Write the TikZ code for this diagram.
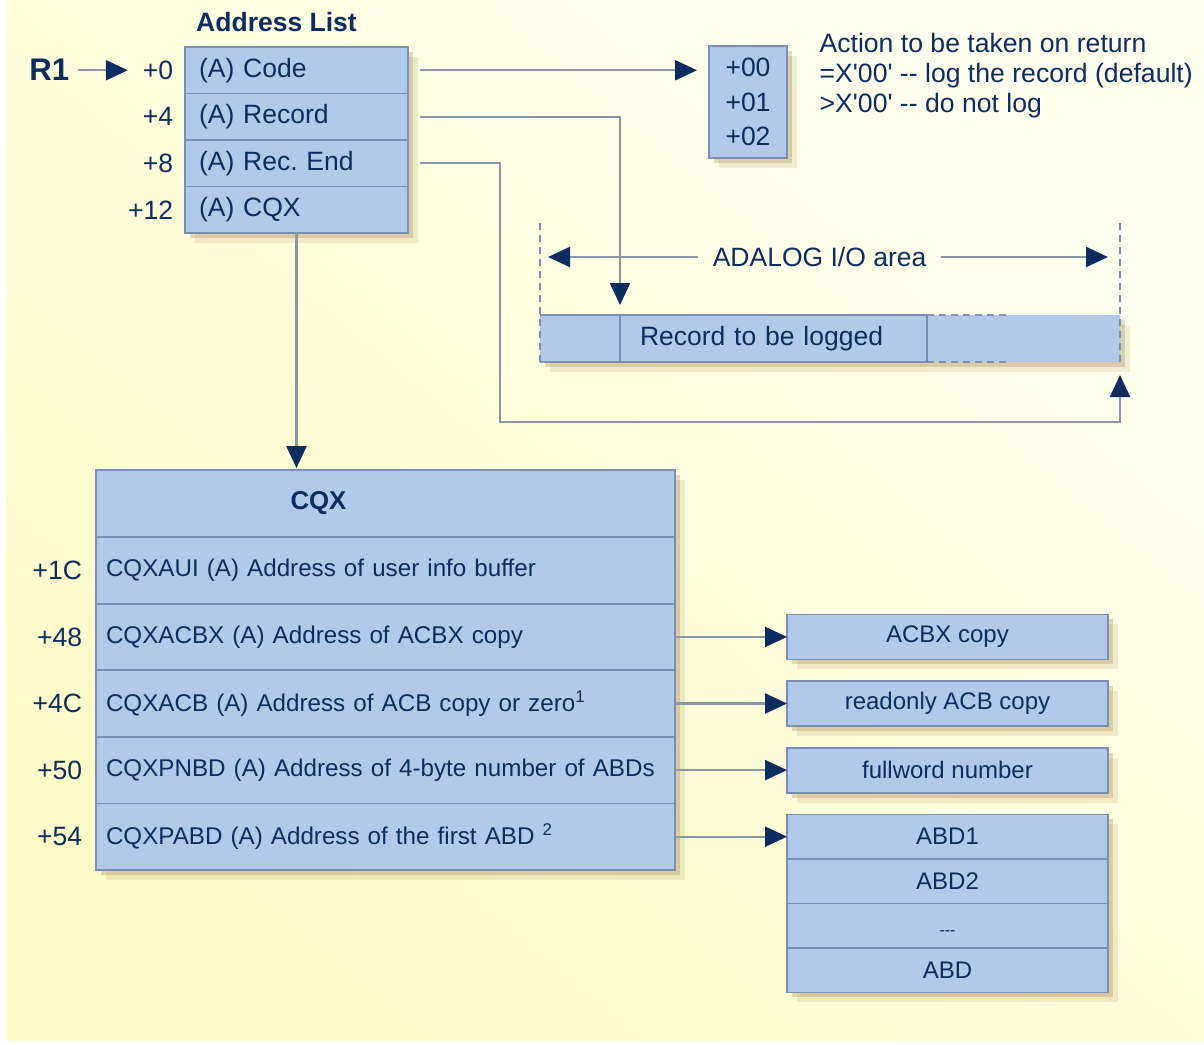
\documentclass[tikz,border=0pt]{standalone}
\usepackage{fontspec}
\setmainfont{Liberation Sans}
\usetikzlibrary{arrows.meta,positioning,shadows}

\definecolor{navy}{HTML}{0C2D5E}
\definecolor{boxfill}{HTML}{B2C9EA}
\definecolor{boxline}{HTML}{7A90B2}
\definecolor{wire}{HTML}{8C96A2}
\definecolor{creamdark}{HTML}{FEFCC8}
\definecolor{creamlight}{HTML}{FFFFF0}
\definecolor{shadowc}{HTML}{B0935F}

\begin{document}
\begin{tikzpicture}[x=0.5pt, y=-0.5pt, >={Triangle[length=11pt,width=10pt,color=navy]}, semithick, node distance=0pt, text=navy, font=\fontsize{13.25}{16}\selectfont]
	\tikzstyle{box}=[draw=boxline, fill=boxfill, line width=0.9pt, outer sep=0pt,
		drop shadow={shadow xshift=2.5pt, shadow yshift=-2.5pt, fill=shadowc, opacity=0.35},
		drop shadow={shadow xshift=5pt, shadow yshift=-5pt, fill=shadowc, opacity=0.18}]
	\tikzstyle{row}=[box, minimum width=111.5pt, minimum height=23.25pt, text width=97.5pt, inner xsep=7pt, align=left]
	\tikzstyle{cqxrow}=[box, minimum width=289.5pt, minimum height=33.3pt, text width=279.5pt, inner xsep=5pt, align=left, font=\fontsize{12.1}{14}\selectfont]
	\tikzstyle{side}=[box, minimum width=160.5pt, minimum height=22.5pt, font=\fontsize{12}{14}\selectfont]
	\tikzstyle{logbox}=[fill=boxfill, minimum height=23.5pt, inner sep=0pt, outer sep=0pt,
		drop shadow={shadow xshift=2.5pt, shadow yshift=-2.5pt, fill=shadowc, opacity=0.35},
		drop shadow={shadow xshift=5pt, shadow yshift=-5pt, fill=shadowc, opacity=0.18}]
	\tikzstyle{offs}=[inner sep=2pt, outer sep=0pt]
	\tikzstyle{conn}=[->, draw=wire, line width=1.2pt]
	\tikzstyle{edge}=[draw=boxline, line width=0.9pt]
	\tikzstyle{dashedge}=[edge, dash pattern=on 3.5pt off 2.5pt]

	% background
	\fill[white] (0,0) rectangle (1204,1044);
	\shade[top color=creamlight, bottom color=creamdark, shading angle=-40] (6,0) rectangle (1204,1040);
	\useasboundingbox (0,0) rectangle (1204,1044);

	% address list
	\node[row, anchor=north west] (code) at (185,47) {(A) Code};
	\node[row, below=of code]   (rec)    {(A) Record};
	\node[row, below=of rec]    (recend) {(A) Rec.\ End};
	\node[row, below=of recend] (acqx)   {(A) CQX};
	\node[above=4pt of code, xshift=-10pt, font=\fontsize{13.25}{16}\selectfont\bfseries] (title) {Address List};
	\node[offs, left=4pt of code]   (o0)  {+0};
	\node[offs, left=4pt of rec]    (o4)  {+4};
	\node[offs, left=4pt of recend] (o8)  {+8};
	\node[offs, left=4pt of acqx]   (o12) {+12};
	\node[left=32.5pt of o0, inner sep=2pt, font=\fontsize{15.6}{18}\selectfont\bfseries] (r1) {R1};
	\draw[conn, shorten <=2pt, shorten >=5.5pt] (r1) -- (o0);

	% return code
	\node[box, anchor=north west, minimum width=39pt, minimum height=56pt, inner sep=0pt, align=center, font=\fontsize{13.25}{17.25}\selectfont] (act) at (709,46) {+00\\+01\\+02};
	\node[anchor=west, align=left, inner sep=0pt, font=\fontsize{13.3}{15}\selectfont] (note) at (819,76) {Action to be taken on return\\=X\textquotesingle00\textquotesingle{} -{}- log the record (default)\\>X\textquotesingle00\textquotesingle{} -{}- do not log};
	\draw[conn] ([xshift=6pt]code.east) -- ([xshift=-6pt]code.east -| act.west);

	% ADALOG I/O area
	\node[logbox, anchor=north west, minimum width=40pt] (recl) at (540,315) {};
	\node[logbox, right=of recl, minimum width=153.5pt, text width=133.5pt, inner xsep=10pt, align=left] (recm) {Record to be logged};
	\node[logbox, right=of recm, minimum width=96.5pt] (recr) {};
	\draw[edge] (recl.north west) -- (recm.north east) -- (recm.south east) -- (recl.south west);
	\draw[edge] (recm.north west) -- (recm.south west);
	\draw[dashedge] (recl.south west) -- ([yshift=46.5pt]recl.north west);
	\draw[dashedge] (recr.south east) -- ([yshift=46.5pt]recr.north east);
	\draw[dashedge] (recr.north west) -- ([xshift=40pt]recr.north west);
	\draw[dashedge] (recr.south west) -- ([xshift=40pt]recr.south west);
	\coordinate (al) at ([yshift=29pt]recl.north west);
	\coordinate (ar) at ([yshift=29pt]recr.north east);
	\path (al) -- node[pos=0.482, inner xsep=7pt] (area) {ADALOG I/O area} (ar);
	\draw[conn, shorten >=4pt] (area) -- (al);
	\draw[conn, shorten >=6pt] (area) -- (ar);
	\draw[conn] ([xshift=6pt]rec.east) -| ([yshift=5pt]recm.north west);
	\coordinate (bend) at (500,422);
	\draw[conn] ([xshift=6pt]recend.east) -| (bend) -| ([yshift=-6.5pt]recr.south east);

	% CQX
	\node[box, anchor=north west, minimum width=289.5pt, minimum height=33.5pt,
		label={[xshift=-33.5pt, font=\fontsize{12.9}{15}\selectfont\bfseries]center:CQX}] (cqx) at (96,470) {};
	\node[cqxrow, below=of cqx] (c1c) {CQXAUI (A) Address of user info buffer};
	\node[cqxrow, below=of c1c] (c48) {CQXACBX (A) Address of ACBX copy};
	\node[cqxrow, below=of c48] (c4c) {CQXACB (A) Address of ACB copy or zero\textsuperscript{1}};
	\node[cqxrow, below=of c4c] (c50) {CQXPNBD (A) Address of 4-byte number of ABDs};
	\node[cqxrow, below=of c50] (c54) {CQXPABD (A) Address of the first ABD \textsuperscript{2}};
	\foreach \n/\t in {c1c/+1C, c48/+48, c4c/+4C, c50/+50, c54/+54}
		\node[offs, left=5pt of \n] (o\n) {\t};
	\draw[conn, shorten >=1pt] (acqx.south) -- (acqx.south |- cqx.north);

	% targets
	\node[side, right=56pt of c48] (acbx)  {ACBX copy};
	\node[side, right=56pt of c4c] (racb)  {readonly ACB copy};
	\node[side, right=56pt of c50] (fullw) {fullword number};
	\node[side, right=56pt of c54, minimum height=22.25pt] (abd1) {ABD1};
	\node[side, below=of abd1, minimum height=22.25pt] (abd2) {ABD2};
	\node[side, below=of abd2, minimum height=22.25pt, font=\fontsize{8}{9}\selectfont] (abddots) {\raisebox{-5pt}[0pt][0pt]{-{}-{}-}};
	\node[side, below=of abddots, minimum height=22.25pt] (abdn) {ABD};
	\foreach \a/\b in {c48/acbx, c4c/racb, c50/fullw, c54/abd1}
		\draw[conn] (\a) -- (\b);
\end{tikzpicture}
\end{document}
